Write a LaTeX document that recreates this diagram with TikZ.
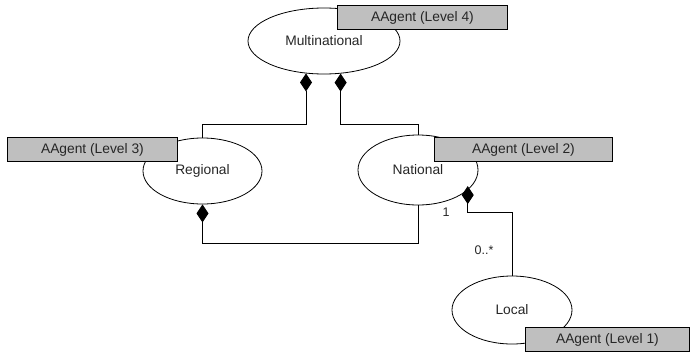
\documentclass[tikz,border=0pt]{standalone}
\usepackage{fontspec}
\setmainfont{Liberation Sans}
\usetikzlibrary{shapes.geometric,arrows.meta}

\tikzset{
  agent/.style={draw, ellipse, inner sep=0pt, line width=0.8pt, text=black!85, font=\fontsize{13.8}{16}\selectfont},
  level/.style={draw, rectangle, fill=black!25, inner sep=0pt, line width=0.9pt, text=black!85,
                minimum height=24pt, anchor=north west, font=\fontsize{13.8}{16}\selectfont},
  comp/.style={draw, line width=0.9pt, -{Diamond[length=18pt,width=12pt]}},
  mult/.style={font=\fontsize{12.5}{14}\selectfont, text=black!85, inner sep=0pt}
}

\begin{document}
\begin{tikzpicture}[x=1pt,y=-1pt]
  \useasboundingbox (0,0) rectangle (690,351);

  % aggregate agents
  \node[agent, minimum width=152pt, minimum height=66pt] (M) at (324,41) {Multinational};
  \node[agent, minimum width=119pt, minimum height=66pt] (R) at (202.5,171) {Regional};
  \node[agent, minimum width=120pt, minimum height=70pt] (N) at (418,170) {National};
  \node[agent, minimum width=120pt, minimum height=68pt] (L) at (512,310) {Local};

  % bend levels of the composition lines
  \coordinate (top) at (0,124);
  \coordinate (low) at (0,243);
  \coordinate (mid) at (0,212);

  % compositions
  \draw[comp] (R.north) |- (M.241 |- top) -- (M.241);
  \draw[comp] (N.north) |- (M.297 |- top) -- (M.297);
  \draw[comp] (N.south) |- (R.south |- low) -- (R.south);
  \draw[comp, shorten >=-4pt] (L.north) |- (N.-22 |- mid) -- (N.-22);

  % multiplicities
  \node[mult] (one) at (446,212) {1};
  \node[mult] (many) at (484,250) {0..*};

  % level tags
  \node[level, minimum width=170pt] (l4) at (337,5) {AAgent (Level 4)};
  \node[level, minimum width=170pt] (l3) at (7,137) {AAgent (Level 3)};
  \node[level, minimum width=178pt] (l2) at (434,137) {AAgent (Level 2)};
  \node[level, minimum width=164pt] (l1) at (525,327) {AAgent (Level 1)};
\end{tikzpicture}
\end{document}
